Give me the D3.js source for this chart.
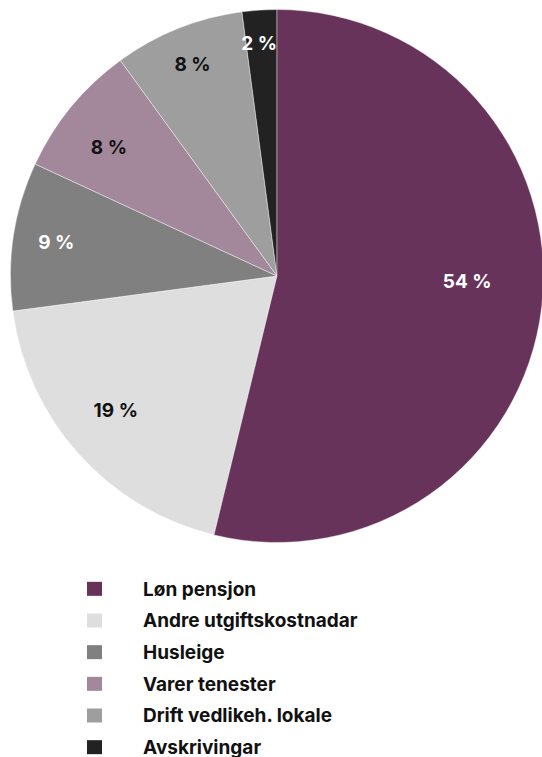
<!DOCTYPE html>
<html>
<head>
<meta charset="utf-8">
<script src="https://cdn.jsdelivr.net/npm/d3@7/dist/d3.min.js"></script>
<style>
  html, body { margin: 0; padding: 0; background: #fff; }
  svg { display: block; }
  text { font-family: Inter, "Liberation Sans", Arial, sans-serif; font-weight: 700; }
</style>
</head>
<body>
<svg id="chart" width="542" height="757"></svg>
<script>
// ---- data ----
const categories = ["Løn pensjon", "Andre utgiftskostnadar", "Husleige", "Varer tenester", "Drift vedlikeh. lokale", "Avskrivingar"];
const values = [53.8, 19.1, 9.0, 8.1, 7.9, 2.1];
const labels = ["54 %", "19 %", "9 %", "8 %", "8 %", "2 %"];
const colors = ["#68335a", "#dedede", "#808080", "#a3889c", "#9e9e9e", "#222222"];
const labelColors = ["#ffffff", "#111111", "#ffffff", "#111111", "#111111", "#ffffff"];

// label placement tweaks (layout only): [angle offset deg, radius fraction]
const labelTweak = [[-5.4, 0.714], [2.1, 0.788], [0, 0.838], [-2.0, 0.794], [0, 0.855], [-0.6, 0.877]];

const W = 542, H = 757;
const cx = 277, cy = 276, R = 266.5;

const svg = d3.select("#chart");
const pie = d3.pie().sort(null).value(d => d)(values);
const arc = d3.arc().innerRadius(0).outerRadius(R);

const g = svg.append("g").attr("transform", `translate(${cx},${cy})`);

function labelPos(d, i) {
  const a = (d.startAngle + d.endAngle) / 2 + labelTweak[i][0] * Math.PI / 180;
  const rr = R * labelTweak[i][1];
  return `translate(${rr * Math.sin(a)},${-rr * Math.cos(a)})`;
}

// draw order: other slices + their labels first, the first slice (and its label) on top
const order = pie.map((d, i) => i).slice(1).concat([0]);
function drawSlice(i) {
  g.append("path")
    .datum(pie[i])
    .attr("d", arc)
    .attr("fill", colors[i])
    .attr("stroke", "#ffffff")
    .attr("stroke-width", 0.6)
    .attr("stroke-opacity", 0.7);
}
function drawLabel(i) {
  g.append("text")
    .datum(pie[i])
    .attr("transform", labelPos(pie[i], i))
    .attr("text-anchor", "middle")
    .attr("dy", "0.36em")
    .attr("font-size", 19)
    .attr("fill", labelColors[i])
    .text(labels[i]);
}
order.slice(0, -1).forEach(drawSlice);
order.slice(0, -1).forEach(drawLabel);
drawSlice(0);
drawLabel(0);

// ---- legend ----
const legendY = d3.scaleBand().domain(categories).range([573, 763]);
const lg = svg.append("g");
const rows = lg.selectAll("g").data(categories).join("g")
  .attr("transform", d => `translate(0,${legendY(d) + legendY.bandwidth() / 2})`);
rows.append("rect")
  .attr("x", 87).attr("y", -7).attr("width", 15).attr("height", 14)
  .attr("fill", (d, i) => colors[i]);
rows.append("text")
  .attr("x", 143).attr("dy", "0.36em")
  .attr("font-size", 19)
  .attr("fill", "#111")
  .text(d => d);
</script>
</body>
</html>
